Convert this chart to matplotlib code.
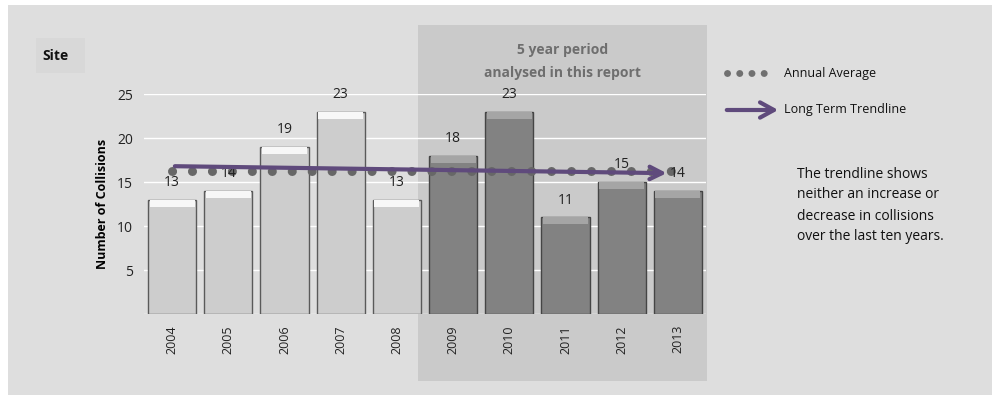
import matplotlib
matplotlib.use("Agg")
from matplotlib import pyplot as plt
from matplotlib import font_manager as fm
from matplotlib.patches import Rectangle

years = ["2004", "2005", "2006", "2007", "2008", "2009", "2010", "2011", "2012", "2013"]
collisions = [13, 14, 19, 23, 13, 18, 23, 11, 15, 14]
period_start = 5  # first year of the 5 year period (index)
annual_average = 16.3
trend_start = 16.8
trend_end = 16.0
y_ticks = [5, 10, 15, 20, 25]


def pick_font(names):
    for n in names:
        try:
            fm.findfont(n, fallback_to_default=False)
            return n
        except Exception:
            pass
    return "DejaVu Sans"


narrow = pick_font(["Liberation Sans Narrow", "Open Sans", "DejaVu Sans"])
plt.rcParams["font.family"] = pick_font(["Open Sans", "DejaVu Sans"])

fig = plt.figure(figsize=(9.92, 3.95), dpi=100)
fig.patch.set_facecolor("white")

W, H = 992, 395


def fx(px):
    return px / W


def fy(py):
    return 1 - py / H


# grey chart background
fig.patches.append(Rectangle((fx(8), 0), 1, fy(5), transform=fig.transFigure,
                             facecolor="#dedede", edgecolor="none", zorder=0))
# shaded 5 year region
fig.patches.append(Rectangle((fx(418), fy(381)), fx(707 - 418), (381 - 25) / H,
                             transform=fig.transFigure, facecolor="#cacaca",
                             edgecolor="none", zorder=0))
# "Site" box
fig.patches.append(Rectangle((fx(36), fy(73)), fx(49), 35 / H, transform=fig.transFigure,
                             facecolor="#d8d8d8", edgecolor="none", zorder=0))
fig.text(fx(42), fy(56), "Site", fontsize=10, fontweight="bold", va="center",
         family=narrow, color="#111")

fig.text(fx(563), fy(50), "5 year period", ha="center", va="center", fontsize=10,
         fontweight="bold", color="#6e6e6e", family=narrow)
fig.text(fx(563), fy(73), "analysed in this report", ha="center", va="center",
         fontsize=10, fontweight="bold", color="#6e6e6e", family=narrow)

ax = fig.add_axes([fx(144), fy(314), fx(706 - 144), (314 - 94) / H])
ax.set_facecolor("none")
ax.set_zorder(2)

x = list(range(len(years)))
light = [i < period_start for i in x]
face = ["#cdcdcd" if l else "#828282" for l in light]
edge = ["#5a5a5a" if l else "#454545" for l in light]
cap = ["#f7f7f7" if l else "#a5a5a5" for l in light]

ax.bar(x, collisions, width=0.86, color=face, edgecolor=edge, linewidth=1, zorder=3)
ax.bar(x, [0.8] * len(x), bottom=[v - 0.8 for v in collisions], width=0.8,
       color=cap, edgecolor="none", zorder=4)

for i, v in zip(x, collisions):
    ax.text(i, v + 1.1, str(v), ha="center", va="bottom", fontsize=10, color="#222", zorder=6)

# annual average dotted line
ax.plot([x[0], x[-1]], [annual_average, annual_average], color="#676767", lw=6.5,
        linestyle=(0, (0.01, 2.2)), dash_capstyle="round", zorder=5, clip_on=False)

# long term trendline arrow
ax.annotate("", xy=(x[-1] - 0.15, trend_end), xytext=(x[0], trend_start),
            arrowprops=dict(arrowstyle="->,head_length=0.9,head_width=0.45",
                            color="#5f4a7c", lw=3), zorder=6)

ax.set_xlim(-0.5, len(years) - 0.5)
ax.set_ylim(0, 25)
ax.set_yticks(y_ticks)
ax.set_xticks(x)
ax.set_xticklabels(years, rotation=90, fontsize=9)
ax.tick_params(axis="both", length=0, colors="#222", labelsize=10)
ax.tick_params(axis="x", labelsize=9, pad=8)
ax.tick_params(axis="y", pad=8)
for s in ax.spines.values():
    s.set_visible(False)
ax.grid(axis="y", color="white", lw=1, zorder=1)
ax.axhline(0, color="white", lw=1, zorder=1)
ax.set_ylabel("Number of Collisions", fontsize=9, fontweight="bold", family=narrow,
              labelpad=6)

# legend on the right
fig.lines.append(plt.Line2D([fx(727), fx(765)], [fy(73), fy(73)], transform=fig.transFigure,
                            color="#707070", lw=5, linestyle=(0, (0.01, 1.75)),
                            dash_capstyle="round"))
fig.text(fx(784), fy(73), "Annual Average", fontsize=9, va="center", color="#111", family=narrow)
ax.annotate("", xy=(fx(781), fy(110)), xytext=(fx(724), fy(110)), xycoords="figure fraction",
            textcoords="figure fraction",
            arrowprops=dict(arrowstyle="->,head_length=1.0,head_width=0.55",
                            color="#5f4a7c", lw=3), annotation_clip=False)
fig.text(fx(784), fy(110), "Long Term Trendline", fontsize=9, va="center", color="#111",
         family=narrow)

note = ["The trendline shows", "neither an increase or", "decrease in collisions",
        "over the last ten years."]
for k, line in enumerate(note):
    fig.text(fx(797), fy(174 + 21 * k), line, fontsize=10, va="center", color="#111",
             family=narrow)

fig.savefig("out.png", dpi=100)
